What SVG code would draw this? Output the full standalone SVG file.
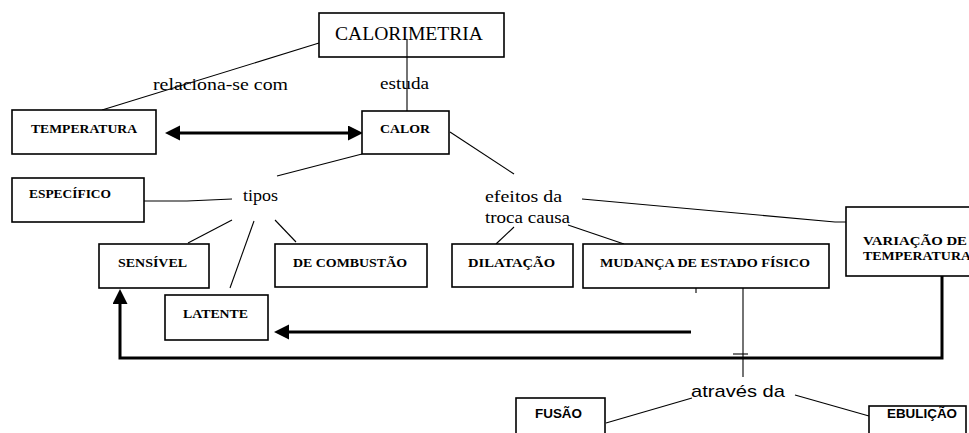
<svg xmlns="http://www.w3.org/2000/svg" width="969" height="433" viewBox="0 0 969 433">
  <style>
    .box { fill: #fff; stroke: #000; stroke-width: 1.6; }
    .cap { font-family: "Liberation Serif", "Times New Roman", serif; font-size: 13px; font-weight: bold; fill: #000; }
    .title { font-family: "Liberation Serif", "Times New Roman", serif; font-size: 19px; fill: #000; }
    .link { font-family: "Liberation Serif", "Times New Roman", serif; font-size: 17px; fill: #000; }
    .sans { font-family: "Liberation Sans", Arial, sans-serif; fill: #000; }
    .thin { fill: none; stroke: #000; stroke-width: 1.1; }
    .thick { fill: none; stroke: #000; stroke-width: 3; }
  </style>
  <defs>
    <marker id="head" markerUnits="userSpaceOnUse" markerWidth="16" markerHeight="16" refX="3" refY="7.5" orient="auto-start-reverse">
      <path d="M0,0 L15,7.5 L0,15 z" fill="#000"/>
    </marker>
  </defs>
  <rect width="969" height="433" fill="#fff"/>

  <!-- connectors -->
  <g id="connectors">
    <line class="thin" x1="319" y1="43" x2="102" y2="110"/>
    <line class="thin" x1="407" y1="39" x2="407" y2="111"/>
    <line class="thin" x1="362" y1="154" x2="277" y2="176"/>
    <line class="thin" x1="450" y1="132" x2="514" y2="174"/>
    <polyline class="thin" points="144,201 187,201 232,199"/>
    <line class="thin" x1="232" y1="220" x2="188" y2="243"/>
    <line class="thin" x1="254" y1="221" x2="230" y2="288"/>
    <line class="thin" x1="275" y1="220" x2="296" y2="242"/>
    <polyline class="thin" points="582,199 835,222 846,222"/>
    <line class="thin" x1="514" y1="227" x2="496" y2="244"/>
    <line class="thin" x1="568" y1="225" x2="624" y2="244"/>
    <line class="thin" x1="696" y1="288" x2="696" y2="293"/>
    <line class="thin" x1="743" y1="288" x2="743" y2="377"/>
    <line class="thin" x1="733" y1="354" x2="748" y2="354"/>
    <line class="thin" x1="692" y1="398" x2="606" y2="423"/>
    <line class="thin" x1="795" y1="395" x2="869" y2="416"/>
    <path class="thick" d="M177,133 H351" marker-start="url(#head)" marker-end="url(#head)"/>
    <path class="thick" d="M691,332 H286" marker-end="url(#head)"/>
    <path class="thick" d="M942,272 V358 H120 V301" marker-end="url(#head)"/>
  </g>

  <!-- link phrases -->
  <g id="phrases">
    <text class="link" x="153" y="90" textLength="135" lengthAdjust="spacingAndGlyphs">relaciona-se com</text>
    <text class="link" x="380" y="89" textLength="49" lengthAdjust="spacingAndGlyphs">estuda</text>
    <text class="link" x="243" y="201" textLength="35" lengthAdjust="spacingAndGlyphs">tipos</text>
    <text class="link" x="485" y="202" textLength="77" lengthAdjust="spacingAndGlyphs">efeitos da</text>
    <text class="link" x="485" y="223" textLength="85" lengthAdjust="spacingAndGlyphs">troca causa</text>
    <text class="sans" x="691" y="397" font-size="17" textLength="94" lengthAdjust="spacingAndGlyphs">através da</text>
  </g>

  <g id="calorimetria">
    <rect class="box" x="319" y="13" width="185" height="44"/>
    <text class="title" x="335" y="40" textLength="148" lengthAdjust="spacingAndGlyphs">CALORIMETRIA</text>
  </g>
  <!-- vertical link drawn over the title text -->
  <line class="thin" x1="407" y1="39" x2="407" y2="57"/>

  <g id="temperatura">
    <rect class="box" x="12" y="110" width="144" height="44"/>
    <text class="cap" x="31" y="133" textLength="106" lengthAdjust="spacingAndGlyphs">TEMPERATURA</text>
  </g>

  <g id="calor">
    <rect class="box" x="362" y="111" width="87" height="43"/>
    <text class="cap" x="380" y="133" textLength="50" lengthAdjust="spacingAndGlyphs">CALOR</text>
  </g>

  <g id="especifico">
    <rect class="box" x="12" y="178" width="132" height="44"/>
    <text class="cap" x="29" y="198" textLength="82" lengthAdjust="spacingAndGlyphs">ESPECÍFICO</text>
  </g>

  <g id="sensivel">
    <rect class="box" x="99" y="244" width="110" height="44"/>
    <text class="cap" x="118" y="267" textLength="69" lengthAdjust="spacingAndGlyphs">SENSÍVEL</text>
  </g>

  <g id="latente">
    <rect class="box" x="165" y="295" width="103" height="45"/>
    <text class="cap" x="183" y="318" textLength="65" lengthAdjust="spacingAndGlyphs">LATENTE</text>
  </g>

  <g id="combustao">
    <rect class="box" x="275" y="244" width="152" height="43"/>
    <text class="cap" x="293" y="267" textLength="114" lengthAdjust="spacingAndGlyphs">DE COMBUSTÃO</text>
  </g>

  <g id="dilatacao">
    <rect class="box" x="452" y="244" width="121" height="43"/>
    <text class="cap" x="468" y="267" textLength="87" lengthAdjust="spacingAndGlyphs">DILATAÇÃO</text>
  </g>

  <g id="mudanca">
    <rect class="box" x="583" y="244" width="246" height="44"/>
    <text class="cap" x="600" y="267" textLength="210" lengthAdjust="spacingAndGlyphs">MUDANÇA DE ESTADO FÍSICO</text>
  </g>

  <g id="variacao">
    <rect class="box" x="846" y="207" width="130" height="69"/>
    <text class="cap" x="863" y="245" textLength="104" lengthAdjust="spacingAndGlyphs">VARIAÇÃO DE</text>
    <text class="cap" x="863" y="260" textLength="108" lengthAdjust="spacingAndGlyphs">TEMPERATURA</text>
  </g>

  <g id="fusao">
    <rect class="box" x="516" y="398" width="89" height="40"/>
    <text class="sans" x="535" y="418" font-size="12" font-weight="bold" textLength="47" lengthAdjust="spacingAndGlyphs">FUSÃO</text>
  </g>

  <g id="ebulicao">
    <rect class="box" x="869" y="406" width="97" height="32"/>
    <text class="sans" x="887" y="418" font-size="12" font-weight="bold" textLength="70" lengthAdjust="spacingAndGlyphs">EBULIÇÃO</text>
  </g>
</svg>
